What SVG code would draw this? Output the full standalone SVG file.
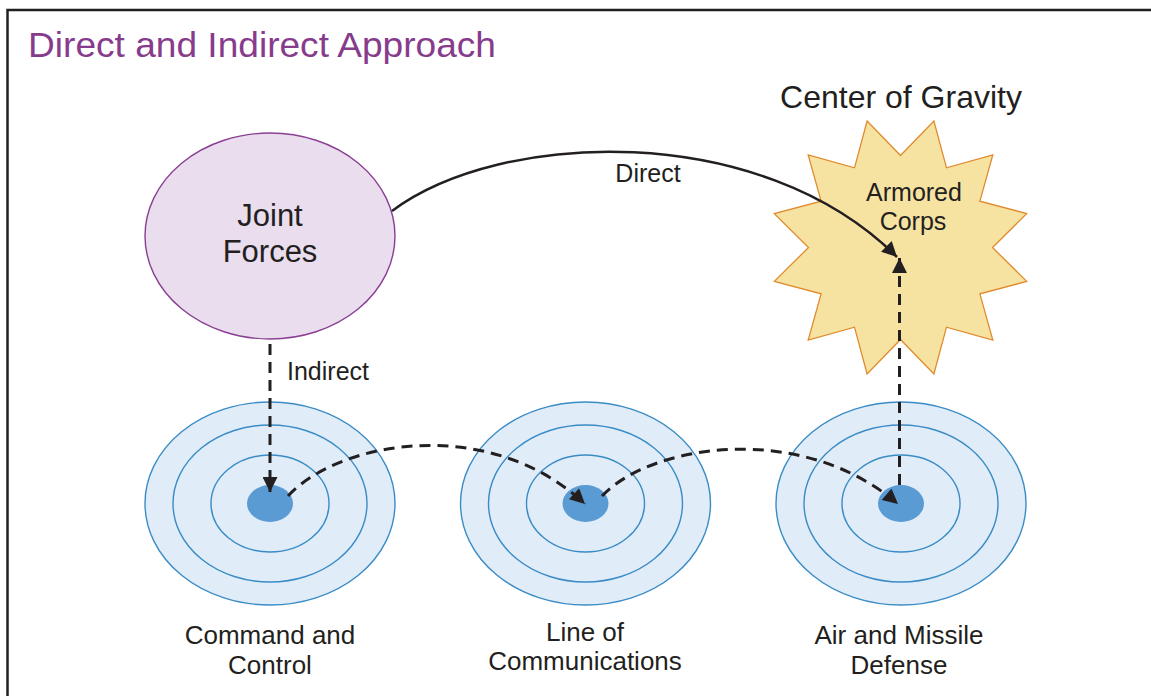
<svg xmlns="http://www.w3.org/2000/svg" width="1151" height="696" viewBox="0 0 1151 696">
<defs>
<style>
.t{font-family:"Liberation Sans",Arial,sans-serif;fill:#231f20;text-anchor:middle}
.ring{fill:none;stroke:#3a8cc6;stroke-width:1.4}
.outer{fill:#e0ecf8;stroke:#3a8cc6;stroke-width:1.4}
.dot{fill:#5b9bd3}
.dash{fill:none;stroke:#231f20;stroke-width:3;stroke-dasharray:11 7}
.solid{fill:none;stroke:#231f20;stroke-width:2.5}
</style>
<marker id="ah" viewBox="0 0 16 16" refX="16" refY="8" markerWidth="16" markerHeight="15" orient="auto" markerUnits="userSpaceOnUse">
<path d="M0,0 L16,8 L0,16 z" fill="#231f20"/>
</marker>
</defs>
<rect x="0" y="0" width="1151" height="696" fill="#fff"/>
<rect x="7.5" y="10" width="1160" height="700" fill="#fff" stroke="#231f20" stroke-width="2.5"/>
<text x="28" y="57" font-family="Liberation Sans, Arial, sans-serif" font-size="35" fill="#873b8d" textLength="468" lengthAdjust="spacingAndGlyphs">Direct and Indirect Approach</text>

<g id="joint-forces">
<ellipse cx="270" cy="236" rx="125" ry="103" fill="#e9ddee" stroke="#8a3f93" stroke-width="1.4"/>
<text class="t" x="270" y="226" font-size="31">Joint</text>
<text class="t" x="270" y="262" font-size="31">Forces</text>
</g>

<g id="center-of-gravity">
<text class="t" x="901" y="108" font-size="32">Center of Gravity</text>
<polygon points="867.1,121.0 900.5,155.5 933.9,121.0 946.5,167.8 992.8,154.9 979.9,201.2 1026.7,213.6 992.5,247.5 1026.7,281.4 979.9,293.8 992.8,340.1 946.5,327.2 933.9,374.0 900.5,339.5 867.1,374.0 854.5,327.2 808.2,340.1 821.1,293.8 774.3,281.4 808.5,247.5 774.3,213.6 821.1,201.2 808.2,154.9 854.5,167.8" fill="#f7e3a1" stroke="#e08a2e" stroke-width="1.3"/>
<text class="t" x="914" y="201" font-size="25">Armored</text>
<text class="t" x="913" y="230" font-size="25">Corps</text>
</g>

<g id="command-and-control">
<ellipse class="outer" cx="270" cy="503.5" rx="125" ry="101.5"/>
<ellipse class="ring" cx="270" cy="503.5" rx="97" ry="78.5"/>
<ellipse class="ring" cx="270" cy="503.5" rx="59" ry="48.5"/>
<ellipse class="dot" cx="270" cy="503.5" rx="23" ry="18.5"/>
<text class="t" x="270" y="644" font-size="26">Command and</text>
<text class="t" x="270" y="674" font-size="26">Control</text>
</g>

<g id="line-of-communications">
<ellipse class="outer" cx="585.5" cy="503.5" rx="125" ry="101.5"/>
<ellipse class="ring" cx="585.5" cy="503.5" rx="97" ry="78.5"/>
<ellipse class="ring" cx="585.5" cy="503.5" rx="59" ry="48.5"/>
<ellipse class="dot" cx="585.5" cy="503.5" rx="23" ry="18.5"/>
<text class="t" x="585" y="641" font-size="26">Line of</text>
<text class="t" x="585" y="670" font-size="26">Communications</text>
</g>

<g id="air-and-missile-defense">
<ellipse class="outer" cx="901" cy="503.5" rx="125" ry="101.5"/>
<ellipse class="ring" cx="901" cy="503.5" rx="97" ry="78.5"/>
<ellipse class="ring" cx="901" cy="503.5" rx="59" ry="48.5"/>
<ellipse class="dot" cx="901" cy="503.5" rx="23" ry="18.5"/>
<text class="t" x="899" y="644" font-size="26">Air and Missile</text>
<text class="t" x="899" y="674" font-size="26">Defense</text>
</g>

<g id="connectors">
<path class="solid" d="M392,211 C500,130 760,120 897,257" marker-end="url(#ah)"/>
<text class="t" x="648" y="182" font-size="25">Direct</text>
<path class="dash" d="M270,344 L270,492" marker-end="url(#ah)"/>
<text class="t" x="328" y="380" font-size="25">Indirect</text>
<path class="dash" d="M288,496 C340,440 490,415 585,504" marker-end="url(#ah)"/>
<path class="dash" d="M602,496 C650,445 800,420 898,504" marker-end="url(#ah)"/>
<path class="dash" d="M899.5,485 L899.5,258" marker-end="url(#ah)"/>
</g>
</svg>
